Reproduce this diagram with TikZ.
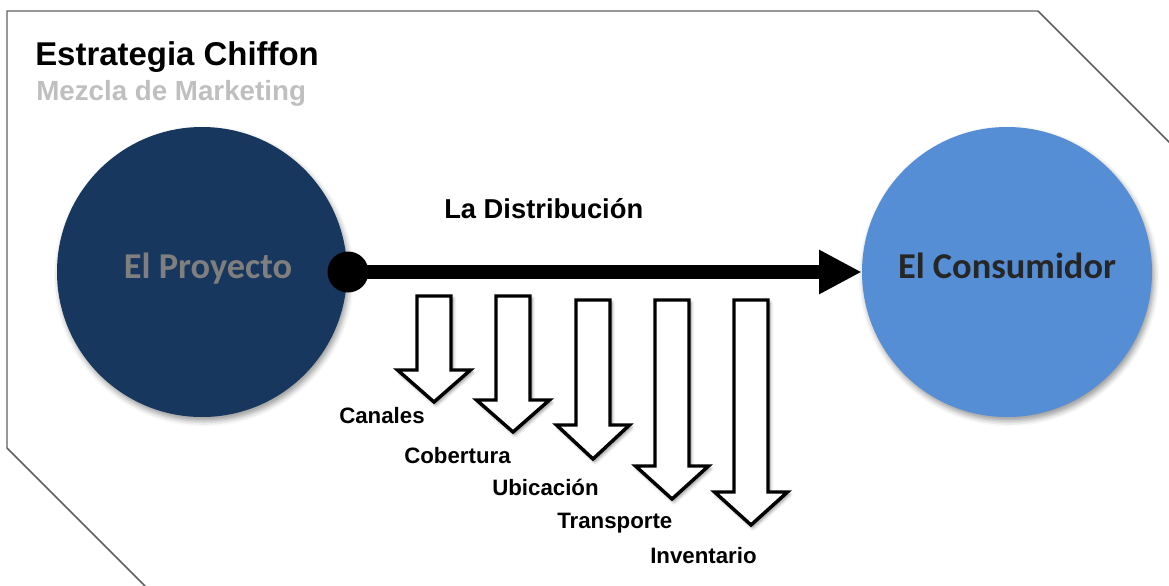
\documentclass[tikz,border=0pt]{standalone}
\usepackage{fontspec}
\setmainfont{Liberation Sans}
\newfontfamily\carlito{Carlito}
\usetikzlibrary{arrows.meta,shadows.blur}
\definecolor{navy}{HTML}{17375E}
\definecolor{skyblue}{HTML}{558ED5}
\definecolor{bordergray}{HTML}{5F5F5F}
\definecolor{subgray}{HTML}{BFBFBF}
\definecolor{projgray}{HTML}{7F7F7F}
\definecolor{consdark}{HTML}{262626}
\tikzset{
  bigcircle/.style={circle, minimum size=217.5pt, inner sep=0pt, draw=none,
    blur shadow={shadow xshift=1.5pt, shadow yshift=-3pt, shadow blur radius=4pt, shadow opacity=40}},
  circtext/.style={font=\carlito\bfseries\fontsize{27.3}{30}\selectfont, anchor=base, inner sep=0pt},
  lbl/.style={font=\bfseries\fontsize{16.7}{19}\selectfont, anchor=base west, inner sep=0pt},
  blockarrow/.style={draw=black, fill=white, line width=2.6pt, line join=miter,
    blur shadow={shadow xshift=1.5pt, shadow yshift=-2pt, shadow blur radius=2.5pt, shadow opacity=45}},
}
\begin{document}
\begin{tikzpicture}[x=0.75pt, y=-0.75pt]
\useasboundingbox (0,0) rectangle (1169,585);
% border
\draw[bordergray, line width=1.1pt] (148,589) -- (7,448) -- (7,11) -- (1038,11) -- (1173,146);
% titles
\node[anchor=base west, inner sep=0pt, font=\bfseries\fontsize{24.7}{29}\selectfont] (title) at (35,65) {Estrategia Chiffon};
\node[anchor=base west, inner sep=0pt, text=subgray, font=\bfseries\fontsize{20.8}{25}\selectfont] (subtitle) at (36,100) {Mezcla de Marketing};
% circles
\node[bigcircle, fill=navy] (proj) at (202,272) {};
\node[bigcircle, fill=skyblue] (cons) at (1007,272) {};
\node[circtext, text=projgray] (projtxt) at ([xshift=4.5pt,yshift=-4.5pt]proj.center) {El Proyecto};
\node[circtext, text=consdark] (constxt) at ([yshift=-4.5pt]cons.center) {El Consumidor};
% main connector
\node[circle, fill=black, minimum size=30.75pt, inner sep=0pt] (dot) at (348,272) {};
\draw[line width=10.5pt, -{Triangle[length=32pt,width=31pt]}] (dot.center) -- (cons.west);
\node[anchor=base west, inner sep=0pt, font=\bfseries\fontsize{20.5}{24}\selectfont] (dist) at (444,218) {La Distribución};
% block arrows
\foreach \cx/\tp/\bs/\tip in {434/296/370/402, 513/296/400/432, 593/300/425/459, 672/300/466/499, 751/300/492/525}{
  \path[blockarrow] (\cx-17,\tp) -- (\cx+17,\tp) -- (\cx+17,\bs) -- (\cx+36.5,\bs) -- (\cx,\tip) -- (\cx-36.5,\bs) -- (\cx-17,\bs) -- cycle;
}
% labels
\node[lbl] (l1) at (339,423) {Canales};
\node[lbl] (l2) at (404,463) {Cobertura};
\node[lbl] (l3) at (492,495) {Ubicación};
\node[lbl] (l4) at (557,528) {Transporte};
\node[lbl] (l5) at (650,563) {Inventario};
\end{tikzpicture}
\end{document}
